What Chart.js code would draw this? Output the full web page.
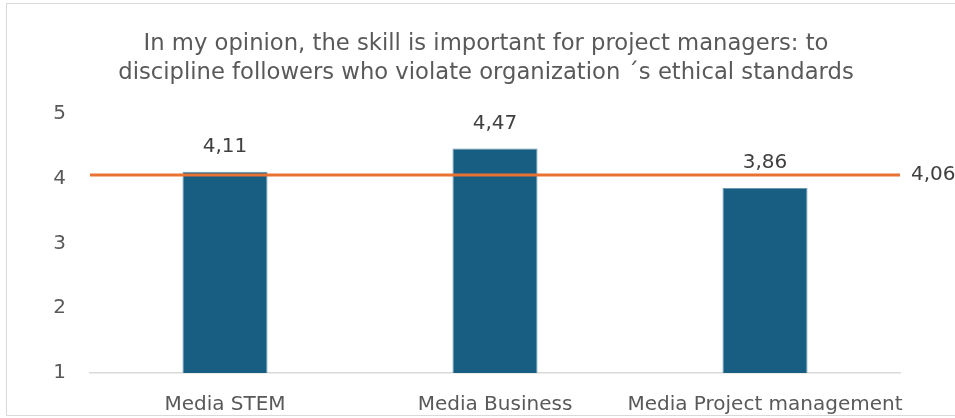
<!DOCTYPE html>
<html lang="en">
<head>
<meta charset="utf-8">
<title>Skill importance – discipline followers</title>
<script src="https://cdn.jsdelivr.net/npm/chart.js"></script>
<style>
  html,body{margin:0;padding:0;background:#fff;overflow:hidden;}
  #wrap{position:absolute;left:0;top:0;width:955px;height:418px;}
</style>
</head>
<body>
<div id="wrap"><canvas id="chart"></canvas></div>

<script>
/* ── data ─────────────────────────────── */
const categories = ['Media STEM', 'Media Business', 'Media Project management'];
const means      = [4.11, 4.47, 3.86];
const overallAvg = 4.06;
const titleLines = [
  'In my opinion, the skill is important for project managers: to',
  'discipline followers who violate organization \u00B4s ethical standards'
];

const FONT = '"DejaVu Sans", sans-serif';
const fmt = v => v.toFixed(2).replace('.', ',');

/* light frame round the chart object (its right side runs off the page) */
const framePlugin = {
  id: 'frame',
  beforeDraw(chart){
    const {ctx, width, height} = chart;
    ctx.save();
    ctx.strokeStyle = '#d9d9d9';
    ctx.lineWidth = 1;
    ctx.beginPath();
    ctx.moveTo(width + 5, 3.5);
    ctx.lineTo(6.5, 3.5);
    ctx.lineTo(6.5, height - 2.5);
    ctx.lineTo(width + 5, height - 2.5);
    ctx.stroke();
    ctx.restore();
  }
};

/* value labels above bars + label at the end of the average line */
const labelPlugin = {
  id: 'labels',
  afterDatasetsDraw(chart){
    const {ctx, chartArea, scales} = chart;
    ctx.save();
    ctx.font = '20px ' + FONT;
    ctx.fillStyle = '#404040';
    ctx.textAlign = 'center';
    ctx.textBaseline = 'middle';
    const meta = chart.getDatasetMeta(1);
    meta.data.forEach((bar, i) => {
      ctx.fillText(fmt(means[i]), bar.x, bar.y - 25);
    });
    ctx.textAlign = 'left';
    ctx.fillText(fmt(overallAvg), chartArea.right + 11, scales.y.getPixelForValue(overallAvg));
    ctx.restore();
  }
};

new Chart(document.getElementById('chart'), {
  type: 'bar',
  data: {
    labels: categories,
    datasets: [
      {
        type: 'line',
        xAxisID: 'x2',
        data: [{x: 0, y: overallAvg}, {x: categories.length, y: overallAvg}],
        borderColor: '#E97132',
        borderWidth: 3,
        pointRadius: 0,
        order: 0
      },
      {
        type: 'bar',
        data: means,
        backgroundColor: '#175E82',
        borderColor: '#6A98B4',
        borderWidth: 1,
        grouped: false,
        categoryPercentage: 1,
        barPercentage: 0.315,
        order: 1
      }
    ]
  },
  options: {
    responsive: true,
    maintainAspectRatio: false,
    animation: false,
    layout: {padding: {left: 17, right: 0, top: 0, bottom: 0}},
    plugins: {
      legend: {display: false},
      tooltip: {enabled: false},
      title: {
        display: true,
        text: titleLines,
        color: '#595959',
        font: {family: FONT, size: 22.7, weight: 'normal', lineHeight: 1.28},
        padding: {top: 30, bottom: 26}
      }
    },
    scales: {
      x: {
        grid: {display: false},
        border: {color: '#d9d9d9', width: 1.5},
        ticks: {color: '#595959', font: {family: FONT, size: 20}, padding: 12, maxRotation: 0, autoSkip: false},
        afterFit: s => { s.height = 45; }
      },
      x2: {type: 'linear', min: 0, max: categories.length, offset: false, display: false},
      y: {
        min: 1, max: 5,
        grid: {display: false, drawTicks: false},
        border: {display: false},
        ticks: {stepSize: 1, color: '#595959', font: {family: FONT, size: 20}, padding: 24},
        afterFit: s => { s.width = 73; }
      },
      yRight: {
        position: 'right',
        grid: {display: false, drawTicks: false},
        border: {display: false},
        ticks: {display: false},
        afterFit: s => { s.width = 55; }
      }
    }
  },
  plugins: [framePlugin, labelPlugin]
});
</script>
</body>
</html>
